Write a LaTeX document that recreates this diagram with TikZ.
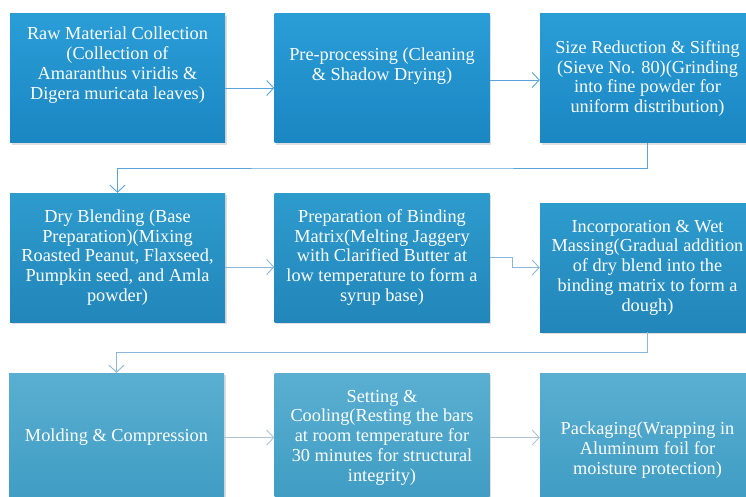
\documentclass[tikz,border=0pt]{standalone}
\usepackage{fontspec}
\setmainfont{Liberation Serif}[Ligatures=TeX]
\usetikzlibrary{arrows.meta,shadows,calc}

\definecolor{topA}{HTML}{2A9DD7}
\definecolor{botA}{HTML}{1A86C2}
\definecolor{topB}{HTML}{2E9BCD}
\definecolor{botB}{HTML}{2286BA}
\definecolor{topC}{HTML}{5AAFD1}
\definecolor{botC}{HTML}{3F9CC3}
\definecolor{linkA}{HTML}{5AA5D8}
\definecolor{linkB}{HTML}{8DB7DA}
\definecolor{linkC}{HTML}{AEC3D3}

\begin{document}
\begin{tikzpicture}[
		x=1pt, y=-1pt,
		stepbox/.style={minimum width=215pt, minimum height=129pt, inner sep=0pt, align=center,
			text=white, font=\rmfamily\fontsize{18.3}{19.8}\selectfont,
			drop shadow={shadow xshift=1.5pt, shadow yshift=-2pt, opacity=0.25}},
		rowA/.style={stepbox, top color=topA, bottom color=botA},
		rowB/.style={stepbox, top color=topB, bottom color=botB},
		rowC/.style={stepbox, top color=topC, bottom color=botC},
		flow/.style={draw, line width=0.9pt, -{Straight Barb[length=7pt,width=15pt]}},
		]
		\clip (0,0) rectangle (746,497);
		\fill[white] (0,0) rectangle (746,497);

		% first row
		\node[rowA, text depth=31pt] (raw) at (117.5,78.5) {Raw Material Collection\\(Collection of\\Amaranthus viridis \&\\Digera muricata leaves)};
		\node[rowA, text depth=29pt] (clean) at (382,78.5) {Pre-processing (Cleaning\\\& Shadow Drying)};
		\node[rowA] (sieve) at (647.5,78.5) {Size Reduction \& Sifting\\(Sieve No. 80)(Grinding\\into fine powder for\\uniform distribution)};

		% second row
		\node[rowB] (blend) at (117.5,257.5) {Dry Blending (Base\\Preparation)(Mixing\\Roasted Peanut, Flaxseed,\\Pumpkin seed, and Amla\\powder)};
		\node[rowB] (bind) at (382,257.5) {Preparation of Binding\\Matrix(Melting Jaggery\\with Clarified Butter at\\low temperature to form a\\syrup base)};
		\node[rowB] (mass) at (647.5,267.5) {Incorporation \& Wet\\Massing(Gradual addition\\of dry blend into the\\binding matrix to form a\\dough)};

		% third row
		\node[rowC] (mold) at (116.5,437.5) {Molding \& Compression};
		\node[rowC] (cool) at (382,437.5) {Setting \&\\Cooling(Resting the bars\\at room temperature for\\30 minutes for structural\\integrity)};
		\node[rowC, text height=78pt] (pack) at (647.5,437.5) {Packaging(Wrapping in\\Aluminum foil for\\moisture protection)};

		% connectors
		\draw[flow, linkA] ([yshift=-9.5pt]raw.east) -- ([yshift=-9.5pt]clean.west);
		\draw[flow, linkA] ([yshift=-1.5pt]clean.east) -- ([yshift=-1.5pt]sieve.west);
		\draw[flow, linkA] (sieve.south) |- ($(sieve.south)!0.5!(blend.north)$) -| (blend.north);
		\draw[flow, linkB] ([yshift=-9.5pt]blend.east) -- ([yshift=-9.5pt]bind.west);
		\draw[flow, linkB] (bind.east) -- ++(23,0) |- (mass.west);
		\draw[flow, linkB] (mass.south) |- ($(mass.south)!0.5!(mold.north)$) -| (mold.north);
		\draw[flow, linkC] (mold.east) -- (cool.west);
		\draw[flow, linkC] (cool.east) -- (pack.west);
	\end{tikzpicture}
\end{document}
